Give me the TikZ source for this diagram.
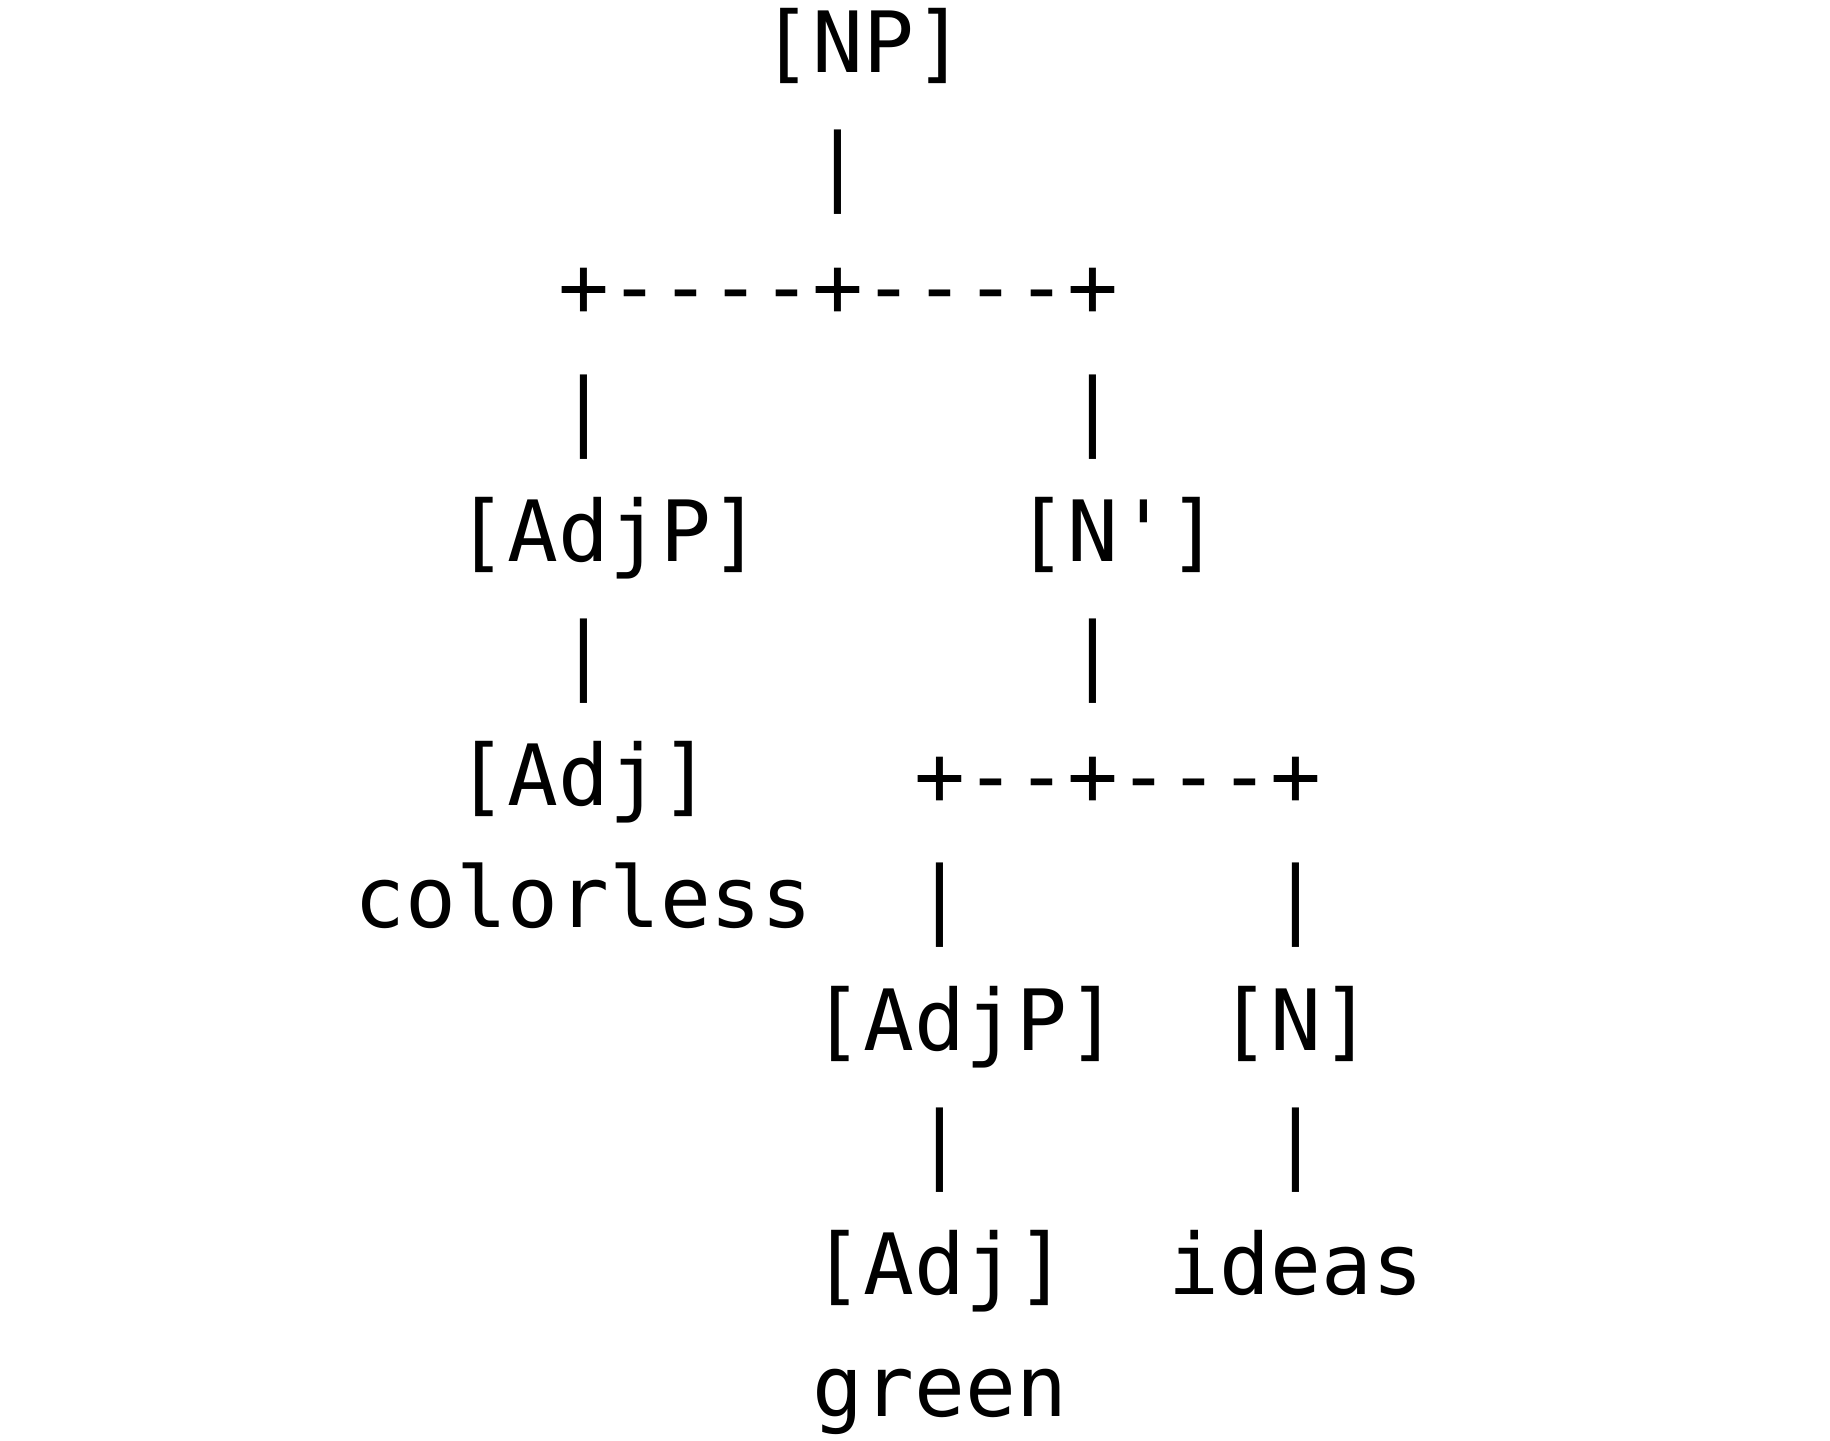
\documentclass[tikz,border=0pt]{standalone}
\usepackage{fontspec}
\setmonofont{DejaVu Sans Mono}
\usepackage{tikz}

\begin{document}
\begin{tikzpicture}[x=12.72pt, y=-30.55pt,
    cell/.style={anchor=base west, inner sep=0pt, outer sep=0pt,
        font=\ttfamily\fontsize{21.13pt}{25pt}\selectfont}]

    \useasboundingbox (0pt,0pt) rectangle (457.5pt,-360pt);

    \begin{scope}[shift={(88.7pt,-18.1pt)}]
    % Root
    \node[cell] (np) at (8,0) {[NP]};
    \node[cell] (npbar) at (9,1) {|};
    \node[cell] (npfork) at (4,2) {+----+----+};
    \node[cell] (lbar) at (4,3) {|};
    \node[cell] (rbar) at (14,3) {|};

    % First level
    \node[cell] (adjpA) at (2,4) {[AdjP]};
    \node[cell] (nbar) at (13,4) {[N']};
    \node[cell] (adjpAbar) at (4,5) {|};
    \node[cell] (nbarbar) at (14,5) {|};
    \node[cell] (adjA) at (2,6) {[Adj]};
    \node[cell] (nbarfork) at (11,6) {+--+---+};
    \node[cell] (colorless) at (0,7) {colorless};
    \node[cell] (lbarB) at (11,7) {|};
    \node[cell] (rbarB) at (18,7) {|};

    % Second level
    \node[cell] (adjpB) at (9,8) {[AdjP]};
    \node[cell] (n) at (17,8) {[N]};
    \node[cell] (adjpBbar) at (11,9) {|};
    \node[cell] (nbarN) at (18,9) {|};
    \node[cell] (adjB) at (9,10) {[Adj]};
    \node[cell] (ideas) at (16,10) {ideas};
    \node[cell] (green) at (9,11) {green};
    \end{scope}

\end{tikzpicture}
\end{document}
